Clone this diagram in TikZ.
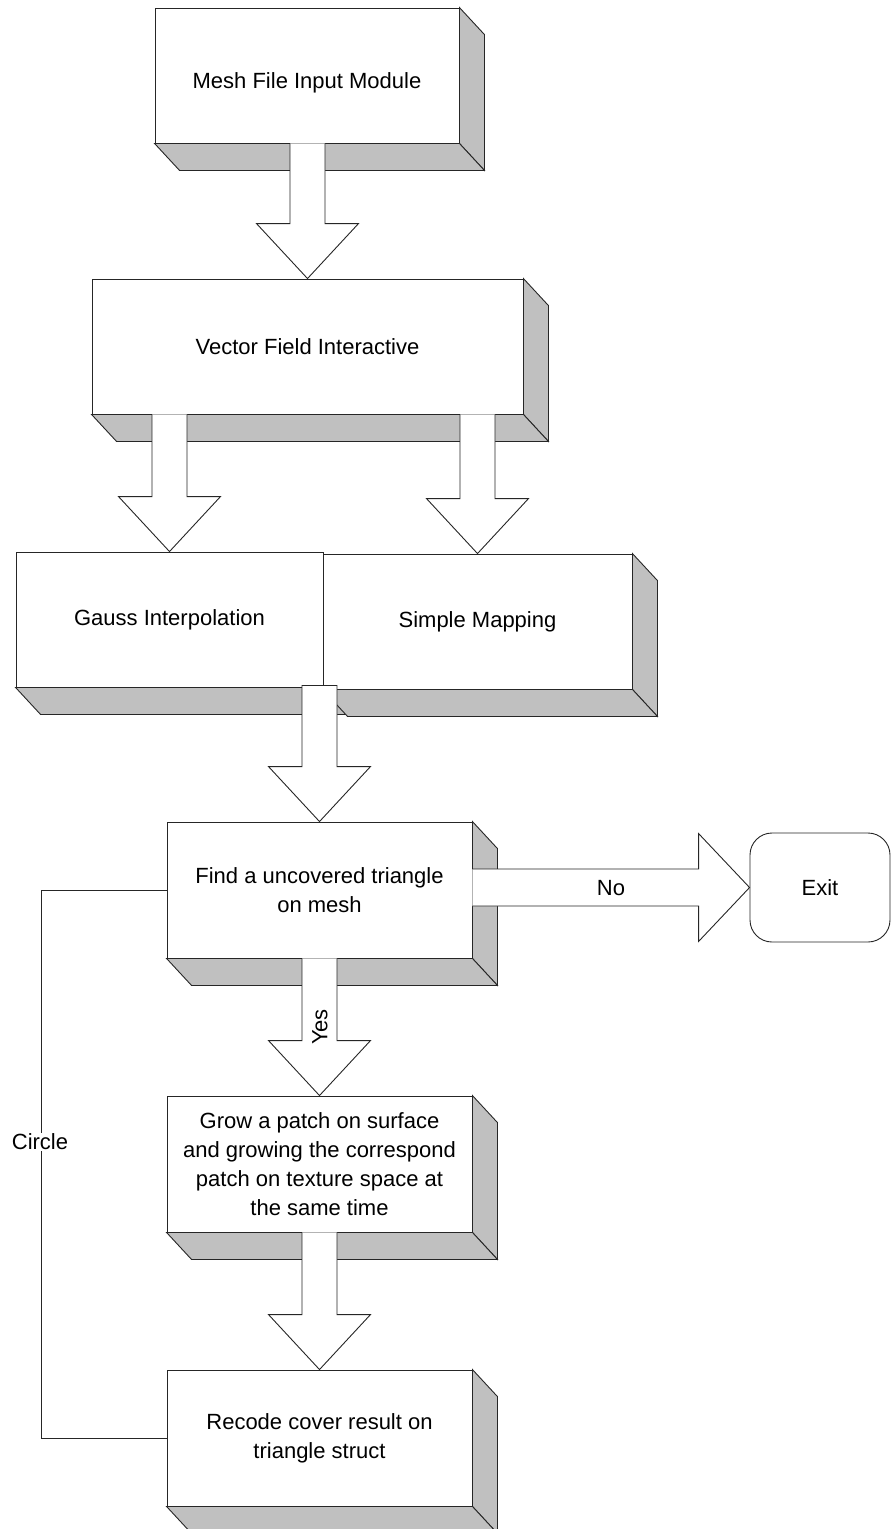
\documentclass[tikz,border=0pt]{standalone}
\usepackage{fontspec}
\setmainfont{Liberation Sans}
\usetikzlibrary{calc}
\definecolor{boxgray}{HTML}{C0C0C0}
\tikzset{
  box/.style={draw=black!85, line width=0.9pt, fill=white, inner sep=0pt, align=center,
    font=\fontsize{22}{29}\selectfont},
  side/.style={fill=boxgray, draw=black!85, line width=0.9pt, line join=miter},
  blk/.style={fill=white, draw=black!85, line width=0.9pt},
  lbl/.style={inner sep=1pt, font=\fontsize{22}{29}\selectfont},
  link/.style={draw=black!85, line width=0.9pt}
}
\newcommand{\rightside}[1]{%
  \path[side] (#1.north east) -- ++(25,27) -- ($(#1.south east)+(25pt,-27pt)$) -- (#1.south east) -- cycle;
}
\newcommand{\bottomside}[1]{%
  \path[side] (#1.south west) -- ++(25,27) -- ($(#1.south east)+(25pt,-27pt)$) -- (#1.south east) -- cycle;
}
\newcommand{\threed}[1]{\rightside{#1}\bottomside{#1}}
\newcommand{\blkdown}[2]{%
  \path[blk] let \p1=#1, \p2=#2 in
    (\x2-17.5pt,\y1) -- (\x2-17.5pt,\y2+55pt) -- (\x2-51pt,\y2+55pt) -- (\x2,\y2)
    -- (\x2+51pt,\y2+55pt) -- (\x2+17.5pt,\y2+55pt) -- (\x2+17.5pt,\y1);
}
\newcommand{\blkdownclosed}[2]{%
  \path[blk] let \p1=#1, \p2=#2 in
    (\x2-17.5pt,\y1) -- (\x2-17.5pt,\y2+55pt) -- (\x2-51pt,\y2+55pt) -- (\x2,\y2)
    -- (\x2+51pt,\y2+55pt) -- (\x2+17.5pt,\y2+55pt) -- (\x2+17.5pt,\y1) -- cycle;
}
\begin{document}
\begin{tikzpicture}[x=1pt,y=-1pt]
\useasboundingbox (0,0) rectangle (891,1529);

% boxes
\node[box, minimum width=304pt, minimum height=135pt, text height=30pt, text depth=5pt] (mesh) at (307,75.5) {Mesh File Input Module};
\threed{mesh}
\node[box, minimum width=431pt, minimum height=135pt] (vec) at (307.5,346.5) {Vector Field Interactive};
\threed{vec}
\node[box, minimum width=307pt, minimum height=135pt] (gauss) at (169.5,619.5) {Gauss Interpolation};
\bottomside{gauss}
\node[box, minimum width=309pt, minimum height=135pt] (simple) at (477.5,621.5) {Simple Mapping};
\threed{simple}
\node[box, minimum width=305pt, minimum height=136pt] (find) at (319.5,890) {Find a uncovered triangle\\on mesh};
\threed{find}
\node[box, minimum width=305pt, minimum height=136pt] (grow) at (319.5,1164) {Grow a patch on surface\\and growing the correspond\\patch on texture space at\\the same time};
\threed{grow}
\node[box, minimum width=305pt, minimum height=136pt] (recode) at (319.5,1438) {Recode cover result on\\triangle struct};
\threed{recode}
\node[box, rounded corners=22pt, minimum width=140pt, minimum height=109pt] (exit) at (820,887.5) {Exit};

% block arrows
\blkdown{(mesh.south)}{(vec.north)}
\blkdown{($(gauss.north |- vec.south)$)}{(gauss.north)}
\blkdown{($(simple.north |- vec.south)$)}{(simple.north)}
\blkdownclosed{($(find.north |- gauss.south)+(0,2pt)$)}{(find.north)}
\blkdown{(find.south)}{(grow.north)}
\blkdown{(grow.south)}{(recode.north)}
\path[blk] let \p1=(find.east), \p2=(exit.west) in
  (\x1,\y2+18.5pt) -- (\x2-51pt,\y2+18.5pt) -- (\x2-51pt,\y2+54pt) -- (\x2,\y2)
  -- (\x2-51pt,\y2-54pt) -- (\x2-51pt,\y2-18.5pt) -- (\x1,\y2-18.5pt);

% labels on arrows
\node[lbl] (nolbl) at (611,888) {No};
\node[lbl, rotate=90] (yeslbl) at (320,1027) {Yes};

% circle loop
\coordinate (loopx) at (41,0);
\draw[link] (recode.west) -- (recode.west -| loopx) -- (find.west -| loopx) -- (find.west);
\node[lbl, fill=white] (circlelbl) at (40,1142) {Circle};
\end{tikzpicture}
\end{document}
